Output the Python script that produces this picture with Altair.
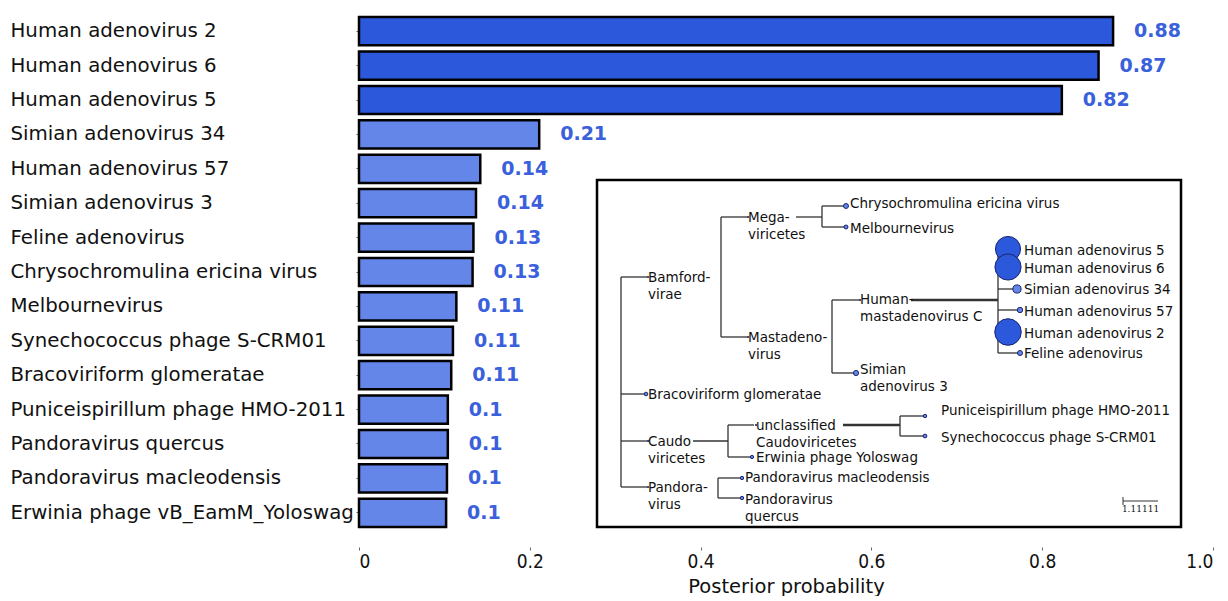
import altair as alt
import pandas as pd

# ---------------- bar chart data ----------------
names = ["Human adenovirus 2", "Human adenovirus 6", "Human adenovirus 5",
         "Simian adenovirus 34", "Human adenovirus 57", "Simian adenovirus 3",
         "Feline adenovirus", "Chrysochromulina ericina virus", "Melbournevirus",
         "Synechococcus phage S-CRM01", "Bracoviriform glomeratae",
         "Puniceispirillum phage HMO-2011", "Pandoravirus quercus",
         "Pandoravirus macleodensis", "Erwinia phage vB_EamM_Yoloswag"]
posterior = [0.883, 0.866, 0.823, 0.211, 0.142, 0.137, 0.134, 0.133, 0.114,
             0.110, 0.108, 0.104, 0.104, 0.103, 0.102]

x_ticks = [0, 0.2, 0.4, 0.6, 0.8, 1.0]

# ---------------- inset tree data (layout in page pixels) ----------------
tree_label = ["", "Bamford-\nvirae", "Mega-\nviricetes", "Chrysochromulina ericina virus",
              "Melbournevirus", "Mastadeno-\nvirus", "Human-\nmastadenovirus C",
              "Human adenovirus 5", "Human adenovirus 6", "Simian adenovirus 34",
              "Human adenovirus 57", "Human adenovirus 2", "Feline adenovirus",
              "Simian\nadenovirus 3", "Bracoviriform glomeratae", "Caudo\nviricetes",
              "unclassified\nCaudoviricetes", "Puniceispirillum phage HMO-2011",
              "Synechococcus phage S-CRM01", "Erwinia phage Yoloswag", "Pandora-\nvirus",
              "Pandoravirus macleodensis", "Pandoravirus\nquercus"]
tree_parent = [-1, 0, 1, 2, 2, 1, 5, 6, 6, 6, 6, 6, 6, 5, 0, 0, 15, 16, 16, 15, 0, 20, 20]
tree_x = [621, 647, 747, 846, 846, 747, 859, 1008, 1008, 1017, 1020, 1008, 1020,
          856, 646, 647, 754, 925, 925, 752, 647, 742, 742]
tree_y = [382, 277, 217, 206, 227, 337, 300, 249, 267, 289, 310, 332, 353,
          373, 394, 441, 425, 416, 436, 457, 487, 478, 498]
tree_vx = [621, 721, 822, None, None, 832, 998, None, None, None, None, None, None,
           None, None, 728, 900, None, None, None, 718, None, None]
tree_stem = [None, None, 796, None, None, None, 911, None, None, None, None, None, None,
             None, None, 693, 843, None, None, None, None, None, None]
thick_stems = [6, 16]
tree_label_x = [0, 648, 748, 850, 850, 748, 860, 1024, 1024, 1024, 1024, 1024, 1024,
                860, 648, 648, 756, 941, 941, 756, 648, 745, 745]
tree_label_y = [0, 277, 217, 203, 228, 337, 299, 250, 268, 289, 311, 333, 353,
                369, 394, 441, 425, 410, 437, 457, 487, 477, 499]
tree_leaf = {3: "Chrysochromulina ericina virus", 4: "Melbournevirus",
             7: "Human adenovirus 5", 8: "Human adenovirus 6", 9: "Simian adenovirus 34",
             10: "Human adenovirus 57", 11: "Human adenovirus 2", 12: "Feline adenovirus",
             13: "Simian adenovirus 3", 14: "Bracoviriform glomeratae",
             17: "Puniceispirillum phage HMO-2011", 18: "Synechococcus phage S-CRM01",
             19: "Erwinia phage vB_EamM_Yoloswag", 21: "Pandoravirus macleodensis",
             22: "Pandoravirus quercus"}
box_x = [597, 1181]
box_y = [180, 527]
scale_bar_x = [1123, 1158]
scale_bar_y = 501
scale_bar_label = "1.11111"

# ---------------- layout constants ----------------
W, H = 854, 516
PLOT_LEFT, PLOT_TOP = 359, 14
DARK, LIGHT = "#2c58dc", "#6486e8"
VAL_COLOR = "#3a60dc"

bars_df = pd.DataFrame({"name": names, "p": posterior})
bars_df["grp"] = ["high" if v >= 0.5 else "low" for v in posterior]

color_scale = alt.Scale(domain=["high", "low"], range=[DARK, LIGHT])

y_enc = alt.Y("name:N", sort=names,
              scale=alt.Scale(paddingInner=0.18, paddingOuter=0.09),
              axis=alt.Axis(title=None, labelAlign="left", labelPadding=346, tickSize=3,
                            domain=False, labelFontSize=19.8, labelFont="DejaVu Sans",
                            labelColor="#111", labelLimit=600, tickColor="#666"))
x_enc = alt.X("p:Q", scale=alt.Scale(domain=[0, 1]),
              axis=alt.Axis(values=x_ticks, grid=False, domain=False, tickSize=3, offset=17,
                            labelPadding=2, labelFontSize=19,
                            labelFont="DejaVu Sans Condensed, DejaVu Sans",
                            labelColor="#111", tickColor="#666",
                            labelExpr="datum.value == 0 ? '0' : format(datum.value, '.1f')",
                            title="Posterior probability", titleFontSize=19.5,
                            titleFont="DejaVu Sans", titleFontWeight="normal",
                            titleColor="#111", titlePadding=6))

bars = alt.Chart(bars_df).mark_bar(stroke="black", strokeWidth=2.5).encode(
    y=y_enc, x=x_enc,
    color=alt.Color("grp:N", scale=color_scale, legend=None))
vals = alt.Chart(bars_df).mark_text(align="left", baseline="middle", dx=21, fontSize=19,
                                    fontWeight="bold", font="DejaVu Sans",
                                    color=VAL_COLOR).encode(
    y=alt.Y("name:N", sort=names), x=alt.X("p:Q"),
    text=alt.Text("p:Q", format=".2~f"))
main = alt.layer(bars, vals)

# ---------------- inset tree ----------------
sx = alt.Scale(domain=[PLOT_LEFT, PLOT_LEFT + W])
sy = alt.Scale(domain=[PLOT_TOP, PLOT_TOP + H], reverse=True)

edges = []
for i, par in enumerate(tree_parent):
    if par >= 0:
        edges.append(dict(x1=tree_vx[par], x2=tree_x[i], y1=tree_y[i], y2=tree_y[i], w=1.3))
for i, vx in enumerate(tree_vx):
    if vx is not None:
        ys = [tree_y[j] for j, par in enumerate(tree_parent) if par == i]
        edges.append(dict(x1=vx, x2=vx, y1=min(ys), y2=max(ys), w=1.3))
        if tree_stem[i] is not None:
            edges.append(dict(x1=tree_stem[i], x2=vx, y1=tree_y[i], y2=tree_y[i],
                              w=2.4 if i in thick_stems else 1.3))
edges.append(dict(x1=scale_bar_x[0], x2=scale_bar_x[1], y1=scale_bar_y, y2=scale_bar_y, w=1.0))
edges.append(dict(x1=scale_bar_x[0], x2=scale_bar_x[0], y1=scale_bar_y - 4,
                  y2=scale_bar_y + 4, w=1.0))
edges_df = pd.DataFrame(edges)

pmap = dict(zip(names, posterior))
leaves_df = pd.DataFrame({
    "x": [tree_x[i] for i in tree_leaf],
    "y": [tree_y[i] for i in tree_leaf],
    "p": [pmap[n] for n in tree_leaf.values()],
})
leaves_df["grp"] = ["high" if v >= 0.5 else "low" for v in leaves_df["p"]]

inner = [i for i in range(1, len(tree_label)) if i not in tree_leaf]
inner_df = pd.DataFrame({"x": [tree_label_x[i] for i in inner],
                         "y": [tree_y[i] for i in inner]})

labels_df = pd.DataFrame({"x": tree_label_x[1:], "y": tree_label_y[1:],
                          "t": tree_label[1:]})

box_df = pd.DataFrame({"x": [box_x[0]], "x2": [box_x[1]], "y": [box_y[0]], "y2": [box_y[1]]})
sb_df = pd.DataFrame({"x": [(scale_bar_x[0] + scale_bar_x[1]) / 2], "y": [scale_bar_y + 4],
                      "t": [scale_bar_label]})

box = alt.Chart(box_df).mark_rect(fill="white", stroke="black", strokeWidth=2.5).encode(
    x=alt.X("x:Q", scale=sx, axis=None), x2="x2:Q",
    y=alt.Y("y:Q", scale=sy, axis=None), y2="y2:Q")
rules = alt.Chart(edges_df).mark_rule(color="#333").encode(
    x=alt.X("x1:Q", scale=sx, axis=None), x2="x2:Q",
    y=alt.Y("y1:Q", scale=sy, axis=None), y2="y2:Q",
    strokeWidth=alt.StrokeWidth("w:Q", scale=None))
dots = alt.Chart(leaves_df).mark_circle(stroke="#1a2470", strokeWidth=1, opacity=1).encode(
    x=alt.X("x:Q", scale=sx, axis=None), y=alt.Y("y:Q", scale=sy, axis=None),
    fill=alt.Fill("grp:N", scale=alt.Scale(domain=["high", "low"], range=[DARK, LIGHT]),
                  legend=None),
    size=alt.Size("p:Q", scale=alt.Scale(type="pow", exponent=1.5, domain=[0.1, 0.88],
                                         range=[10, 700]), legend=None))
idots = alt.Chart(inner_df).mark_circle(color="#1a2470", size=5, opacity=1).encode(
    x=alt.X("x:Q", scale=sx, axis=None), y=alt.Y("y:Q", scale=sy, axis=None))
texts = alt.Chart(labels_df).mark_text(align="left", baseline="top", dy=-6, fontSize=13.5,
                                       font="DejaVu Sans", color="#111", lineBreak="\n",
                                       lineHeight=17).encode(
    x=alt.X("x:Q", scale=sx, axis=None), y=alt.Y("y:Q", scale=sy, axis=None), text="t:N")
sb_text = alt.Chart(sb_df).mark_text(align="center", baseline="top", fontSize=9,
                                     font="DejaVu Serif", color="#111").encode(
    x=alt.X("x:Q", scale=sx, axis=None), y=alt.Y("y:Q", scale=sy, axis=None), text="t:N")

inset = alt.layer(box, rules, dots, idots, texts, sb_text)

chart = alt.layer(main, inset).resolve_scale(
    x="independent", y="independent", color="independent"
).properties(
    width=W, height=H, padding={"left": 2, "top": 6, "right": 0, "bottom": 0},
    background="white"
).configure_view(stroke=None)

chart.save("out.html", embed_options={"renderer": "svg", "actions": False})
